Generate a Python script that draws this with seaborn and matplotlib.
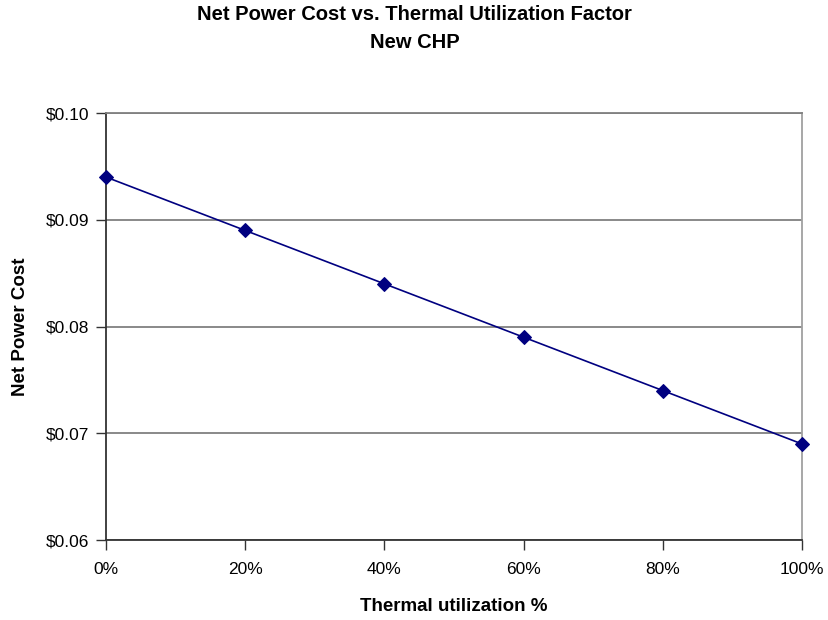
import matplotlib
matplotlib.use("Agg")
import matplotlib.pyplot as plt
import seaborn as sns
import pandas as pd
from matplotlib.ticker import FuncFormatter

utilization = [0.0, 0.2, 0.4, 0.6, 0.8, 1.0]
net_power_cost = [0.094, 0.089, 0.084, 0.079, 0.074, 0.069]
x_ticks = [0.0, 0.2, 0.4, 0.6, 0.8, 1.0]
y_ticks = [0.06, 0.07, 0.08, 0.09, 0.10]

sns.set_theme(style="white")
plt.rcParams["font.family"] = ["Liberation Sans", "DejaVu Sans"]
plt.rcParams["text.color"] = "black"
plt.rcParams["axes.labelcolor"] = "black"

df = pd.DataFrame({"util": utilization, "cost": net_power_cost})

fig = plt.figure(figsize=(8.29, 6.2), dpi=100)
ax = fig.add_axes([0.1279, 0.129, 0.8395, 0.6887])

sns.lineplot(data=df, x="util", y="cost", ax=ax, color="#000080",
             marker="D", markersize=7.5, markeredgecolor="#000080",
             linewidth=1.2, zorder=3, clip_on=False)

ax.set_xlim(0, 1)
ax.set_ylim(0.06, 0.10)
ax.set_xticks(x_ticks)
ax.set_yticks(y_ticks)
ax.xaxis.set_major_formatter(FuncFormatter(lambda v, p: f"{v*100:.0f}%"))
ax.yaxis.set_major_formatter(FuncFormatter(lambda v, p: f"${v:.2f}"))
ax.grid(axis="y", color="#808080", linewidth=1.3)
ax.grid(axis="x", visible=False)

for side in ["left", "bottom"]:
    ax.spines[side].set_color("#333333")
    ax.spines[side].set_linewidth(1.3)
ax.spines["top"].set_color("#808080")
ax.spines["top"].set_linewidth(1.3)
ax.spines["right"].set_color("#a0a0a0")
ax.spines["right"].set_linewidth(1.3)

ax.tick_params(axis="both", direction="out", length=7, width=1,
               color="#333333", labelsize=12.5, labelcolor="black",
               left=True, bottom=True)
ax.tick_params(axis="x", pad=9)
ax.tick_params(axis="y", pad=5)

ax.set_xlabel("Thermal utilization %", fontsize=13.5, fontweight="bold",
              labelpad=15, color="black")
ax.set_ylabel("Net Power Cost", fontsize=13.5, fontweight="bold",
              labelpad=12, color="black")

fig.text(0.5, 0.976, "Net Power Cost vs. Thermal Utilization Factor",
         ha="center", va="center", fontsize=14.5, fontweight="bold", color="black")
fig.text(0.5, 0.931, "New CHP",
         ha="center", va="center", fontsize=14.5, fontweight="bold", color="black")

fig.savefig("out.png", dpi=100)
